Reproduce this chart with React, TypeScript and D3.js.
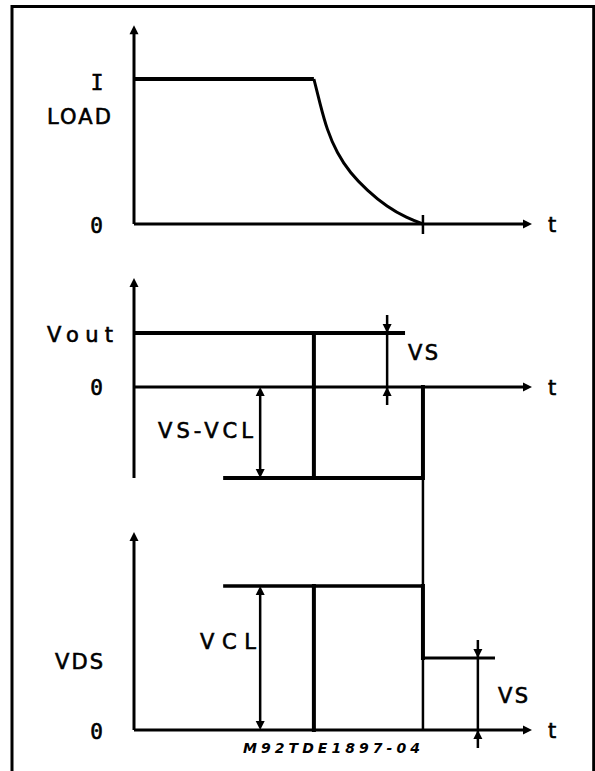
import React from "react";
import * as d3 from "d3";

// ---------- data ----------
// time axis (arbitrary units 0..100)
const switchOffT = 45.2;
const clampEndT = 72.6;
const levelStartT = 22.4;

// I_LOAD decay (t, value normalised to I)
const loadT = [0, 45.2, 46.7, 48.5, 51.0, 54.3, 58.5, 63.6, 68.6, 72.6];
const loadV = [1, 1, 0.834, 0.648, 0.49, 0.352, 0.234, 0.117, 0.041, 0];

// Vout panel (value normalised to VS)
const voutLevels = [
  { v: 1, t0: 0, t1: 68.1 },
  { v: -1.685, t0: levelStartT, t1: clampEndT },
];
const voutEdges = [
  { t: switchOffT, v0: 1, v1: -1.685 },
  { t: clampEndT, v0: -1.685, v1: 0 },
];

// VDS panel (value normalised to VS)
const vdsLevels = [
  { v: 2, t0: levelStartT, t1: clampEndT },
  { v: 1, t0: clampEndT, t1: 90.7 },
];
const vdsEdges = [
  { t: switchOffT, v0: 2, v1: 0 },
  { t: clampEndT, v0: 2, v1: 1 },
];

// y-axis labels per panel
const panel1Labels = ["I", "LOAD", "0"];
const panel2Labels = ["Vout", "0"];
const panel3Labels = ["VDS", "0"];
const dimLabels = ["VS", "VS-VCL", "VCL", "VS"];
const figureCode = "M92TDE1897-04";

// ---------- scales ----------
const x = d3.scaleLinear().domain([0, 100]).range([134, 532]);
const y1 = d3.scaleLinear().domain([0, 1]).range([224, 79]);
const y2 = d3.scaleLinear().domain([0, 1]).range([387, 333]);
const y3 = d3.scaleLinear().domain([0, 1]).range([730, 658]);

const FONT = "'DejaVu Sans', 'Liberation Sans', sans-serif";
const MONO = "'DejaVu Sans Mono', 'Liberation Mono', monospace";
const FS = 21;
const CAP = FS * 0.365;

function head(tx: number, ty: number, dir: "up" | "down" | "right", len = 9, hw = 4.5) {
  let pts: number[][];
  if (dir === "up") pts = [[tx, ty], [tx - hw, ty + len], [tx + hw, ty + len]];
  else if (dir === "down") pts = [[tx, ty], [tx - hw, ty - len], [tx + hw, ty - len]];
  else pts = [[tx, ty], [tx - len, ty - hw], [tx - len, ty + hw]];
  return <polygon points={pts.map((p) => p.join(",")).join(" ")} fill="#000" />;
}

function Label({ text, x: lx, cy, width, anchor = "start", mono = false }: { text: string; x: number; cy: number; width?: number; anchor?: string; mono?: boolean }) {
  return (
    <text
      x={lx}
      y={cy + CAP}
      fontFamily={mono ? MONO : FONT}
      fontSize={FS}
      textAnchor={anchor}
      stroke="#000"
      strokeWidth={0.6}
      {...(width ? { textLength: width, lengthAdjust: "spacing" } : {})}
    >
      {text}
    </text>
  );
}

function Axes({ yTop, yBottom, yZero }: { yTop: number; yBottom: number; yZero: number }) {
  return (
    <g>
      <line x1={x(0)} x2={x(0)} y1={yTop + 6} y2={yBottom} stroke="#000" strokeWidth={3} />
      {head(x(0), yTop, "up")}
      <line x1={x(0)} x2={x(100) - 6} y1={yZero} y2={yZero} stroke="#000" strokeWidth={3} />
      {head(x(100), yZero, "right")}
      <Label text="t" x={552} cy={yZero} anchor="middle" />
    </g>
  );
}

function DimArrow({ t, ya, yb, inward, stub = 18 }: { t: number; ya: number; yb: number; inward: boolean; stub?: number }) {
  const cx = x(t);
  if (inward) {
    return (
      <g>
        <line x1={cx} x2={cx} y1={ya - stub} y2={yb + stub} stroke="#000" strokeWidth={2.5} />
        {head(cx, ya, "down")}
        {head(cx, yb, "up")}
      </g>
    );
  }
  return (
    <g>
      <line x1={cx} x2={cx} y1={ya + 4} y2={yb - 4} stroke="#000" strokeWidth={2.5} />
      {head(cx, ya, "up")}
      {head(cx, yb, "down")}
    </g>
  );
}

export default function App() {
  const decay = d3
    .line<number>()
    .x((_, i) => x(loadT[i + 1]))
    .y((v) => y1(v))
    .curve(d3.curveBasis);
  const pts = loadV.slice(1);
  const decayPath = decay(pts) || "";

  return (
    <svg width={595} height={771} style={{ position: "absolute", left: 0, top: 0, background: "#fff" }}>
      {/* frame */}
      <path d="M12,771 L12,6.5 L593.7,6.5 L593.7,771" fill="none" stroke="#000" strokeWidth={3} />

      {/* ---------- panel 1: I LOAD ---------- */}
      <Axes yTop={y1(1.37)} yBottom={y1(0)} yZero={y1(0)} />
      <line x1={x(loadT[0])} x2={x(loadT[1])} y1={y1(loadV[0])} y2={y1(loadV[1])} stroke="#000" strokeWidth={4} />
      <path d={decayPath} fill="none" stroke="#000" strokeWidth={3} />
      <line x1={x(clampEndT)} x2={x(clampEndT)} y1={y1(0) - 9} y2={y1(0) + 10} stroke="#000" strokeWidth={2.5} />
      <Label text={panel1Labels[0]} x={97} cy={82} anchor="middle" mono={true} />
      <Label text={panel1Labels[1]} x={47} cy={116.5} width={64} />
      <Label text={panel1Labels[2]} x={96.5} cy={225.5} anchor="middle" mono={true} />

      {/* ---------- panel 2: Vout ---------- */}
      <Axes yTop={y2(2.02)} yBottom={y2(-1.685)} yZero={y2(0)} />
      {voutLevels.map((l, i) => (
        <line key={"vl" + i} x1={x(l.t0)} x2={x(l.t1)} y1={y2(l.v)} y2={y2(l.v)} stroke="#000" strokeWidth={4} />
      ))}
      {voutEdges.map((e, i) => (
        <line key={"ve" + i} x1={x(e.t)} x2={x(e.t)} y1={y2(e.v0)} y2={y2(e.v1)} stroke="#000" strokeWidth={4} strokeLinecap="square" />
      ))}
      <DimArrow t={63.6} ya={y2(1)} yb={y2(0)} inward={true} />
      <DimArrow t={31.7} ya={y2(0)} yb={y2(-1.685)} inward={false} />
      <Label text={panel2Labels[0]} x={47} cy={334} width={66} />
      <Label text={panel2Labels[1]} x={96.5} cy={387.5} anchor="middle" mono={true} />
      <Label text={dimLabels[0]} x={408} cy={352.5} width={30} />
      <Label text={dimLabels[1]} x={158} cy={430.5} width={95} />

      {/* connector at clamp end */}
      <line x1={x(clampEndT)} x2={x(clampEndT)} y1={y2(-1.685)} y2={y3(2)} stroke="#000" strokeWidth={2.5} />
      <line x1={x(clampEndT)} x2={x(clampEndT)} y1={y3(1)} y2={y3(0)} stroke="#000" strokeWidth={2.5} />

      {/* ---------- panel 3: VDS ---------- */}
      <Axes yTop={y3(2.75)} yBottom={y3(0)} yZero={y3(0)} />
      {vdsLevels.map((l, i) => (
        <line key={"dl" + i} x1={x(l.t0)} x2={x(l.t1)} y1={y3(l.v)} y2={y3(l.v)} stroke="#000" strokeWidth={i === 0 ? 3.5 : 3} />
      ))}
      {vdsEdges.map((e, i) => (
        <line key={"de" + i} x1={x(e.t)} x2={x(e.t)} y1={y3(e.v0)} y2={y3(e.v1)} stroke="#000" strokeWidth={4} strokeLinecap="square" />
      ))}
      <DimArrow t={31.7} ya={y3(2)} yb={y3(0)} inward={false} />
      <DimArrow t={86.4} ya={y3(1)} yb={y3(0)} inward={true} />
      <Label text={panel3Labels[0]} x={55} cy={661} width={48} />
      <Label text={panel3Labels[1]} x={96.5} cy={731} anchor="middle" mono={true} />
      <Label text={dimLabels[2]} x={200} cy={641.5} width={56} />
      <Label text={dimLabels[3]} x={498} cy={695.5} width={30} />

      {/* figure code */}
      <text
        x={243}
        y={753}
        fontFamily={FONT}
        fontSize={14}
        fontWeight="bold"
        fontStyle="italic"
        textLength={177}
        lengthAdjust="spacing"
      >
        {figureCode}
      </text>
    </svg>
  );
}
